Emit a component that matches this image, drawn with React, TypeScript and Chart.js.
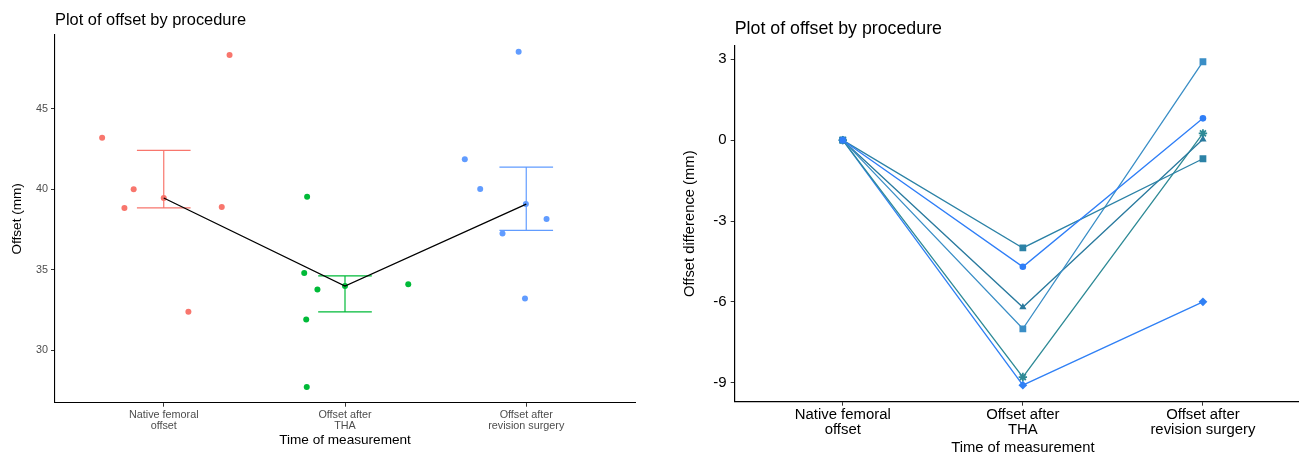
import React, { useEffect, useRef } from "react";
import { Chart, registerables } from "chart.js";
Chart.register(...registerables);

const FONT = "'Liberation Sans', Arial, Helvetica, sans-serif";

// ---------- Data ----------
const categories: string[][] = [
  ["Native femoral", "offset"],
  ["Offset after", "THA"],
  ["Offset after", "revision surgery"],
];

// Left panel: jittered raw points (x = jittered category position)
const nativeX = [0.66, 1.363, 0.834, 0.783, 1.0, 1.32, 1.136];
const nativeY = [43.2, 48.34, 40.0, 38.84, 39.46, 38.9, 32.39];
const thaX = [1.791, 1.775, 1.848, 1.786, 1.789, 2.349, 2.0];
const thaY = [39.53, 34.81, 33.78, 31.92, 27.73, 34.11, 33.99];
const revX = [2.958, 2.661, 2.746, 2.998, 3.112, 2.869, 2.993];
const revY = [48.54, 41.86, 40.02, 39.08, 38.15, 37.26, 33.22];

const centerValues = [39.46, 33.99, 39.08];
const upperValues = [42.42, 34.63, 41.38];
const lowerValues = [38.85, 32.39, 37.45];
const groupColors = ["#F8766D", "#00BA38", "#619CFF"];

const leftYTicks = [30, 35, 40, 45];

// Right panel: offset difference per patient
const diffPatient1 = [0, -4.7, 0.81];
const diffPatient2 = [0, -4.0, -0.69];
const diffPatient3 = [0, -7.0, 2.91];
const diffPatient4 = [0, -6.2, 0.03];
const diffPatient5 = [0, -8.79, 0.25];
const diffPatient6 = [0, -9.09, -6.0];
const rightYTicks = [-9, -6, -3, 0, 3];

const rightSeries = [
  { values: diffPatient1, color: "#2F7EF7", style: "circle" },
  { values: diffPatient2, color: "#2C82A6", style: "rect" },
  { values: diffPatient3, color: "#3A8EC6", style: "rect" },
  { values: diffPatient4, color: "#2A7A9E", style: "triangle" },
  { values: diffPatient5, color: "#2E8A96", style: "star" },
  { values: diffPatient6, color: "#3080F5", style: "rectRot" },
];

const markerRadius: Record<string, number> = {
  circle: 3.3,
  rect: 4.8,
  triangle: 4.2,
  star: 4.2,
  rectRot: 4.4,
};

// ---------- Helpers ----------
const titlePlugin = {
  id: "panelTitle",
  afterDraw(chart: any, _args: any, opts: any) {
    const { ctx, chartArea } = chart;
    ctx.save();
    ctx.font = `${opts.size}px ${FONT}`;
    ctx.fillStyle = "#000";
    ctx.textBaseline = "middle";
    ctx.textAlign = "left";
    ctx.fillText(opts.text, chartArea.left, opts.y);
    ctx.restore();
  },
};

const zip = (xs: number[], ys: number[]) => xs.map((x, i) => ({ x, y: ys[i] }));

function errorBarData(i: number) {
  const c = i + 1;
  const h = 0.148;
  return [
    { x: c - h, y: upperValues[i] },
    { x: c + h, y: upperValues[i] },
    { x: c, y: null },
    { x: c, y: upperValues[i] },
    { x: c, y: lowerValues[i] },
    { x: c + h, y: null },
    { x: c - h, y: lowerValues[i] },
    { x: c + h, y: lowerValues[i] },
  ];
}

export default function App() {
  const leftRef = useRef<HTMLCanvasElement>(null);
  const rightRef = useRef<HTMLCanvasElement>(null);

  useEffect(() => {
    const catCallback = (v: any) => categories[Math.round(Number(v)) - 1] ?? "";

    const leftDatasets: any[] = [
      {
        type: "line",
        data: centerValues.map((y, i) => ({ x: i + 1, y })),
        borderColor: "#000",
        borderWidth: 1.3,
        pointRadius: 0,
        fill: false,
        order: 0,
      },
    ];
    groupColors.forEach((col, i) => {
      leftDatasets.push({
        type: "line",
        data: errorBarData(i),
        borderColor: col,
        borderWidth: 1.2,
        pointRadius: 0,
        spanGaps: false,
        fill: false,
        order: 1,
      });
    });
    const pts = [zip(nativeX, nativeY), zip(thaX, thaY), zip(revX, revY)];
    pts.forEach((d, i) => {
      leftDatasets.push({
        type: "scatter",
        data: d,
        backgroundColor: groupColors[i],
        borderWidth: 0,
        pointRadius: 3,
        order: 2,
      });
    });

    const left = new Chart(leftRef.current!, {
      type: "scatter",
      data: { datasets: leftDatasets },
      plugins: [titlePlugin as any],
      options: {
        responsive: false,
        animation: false,
        events: [],
        layout: { padding: { left: 0, right: 15, top: 35, bottom: 0 } },
        plugins: {
          legend: { display: false },
          tooltip: { enabled: false },
          panelTitle: { text: "Plot of offset by procedure", size: 16.4, y: 20 },
        } as any,
        scales: {
          x: {
            type: "linear",
            min: 0.4,
            max: 3.6,
            afterBuildTicks: (s: any) => {
              s.ticks = [1, 2, 3].map((v) => ({ value: v }));
            },
            afterFit: (s: any) => {
              s.height = 52.3;
            },
            ticks: {
              callback: catCallback,
              font: { family: FONT, size: 10.8, lineHeight: 1.08 },
              color: "#4D4D4D",
              padding: 2,
              autoSkip: false,
              maxRotation: 0,
              minRotation: 0,
            },
            grid: { drawOnChartArea: false, drawTicks: true, tickLength: 4, color: "#333" },
            border: { display: true, color: "#000", width: 1.1 },
            title: {
              display: true,
              text: "Time of measurement",
              color: "#000",
              font: { family: FONT, size: 13.6, lineHeight: 1.2 },
              padding: { top: 0, bottom: 6.1 },
            },
          },
          y: {
            type: "linear",
            min: 26.75,
            max: 49.58,
            afterBuildTicks: (s: any) => {
              s.ticks = leftYTicks.map((v) => ({ value: v }));
            },
            afterFit: (s: any) => {
              s.width = 55;
            },
            ticks: {
              callback: (v: any) => String(v),
              font: { family: FONT, size: 10.8 },
              color: "#4D4D4D",
              padding: 3,
            },
            grid: { drawOnChartArea: false, drawTicks: true, tickLength: 4, color: "#333" },
            border: { display: true, color: "#000", width: 1.1 },
            title: {
              display: true,
              text: "Offset (mm)",
              color: "#000",
              font: { family: FONT, size: 13.6, lineHeight: 1.2 },
              padding: { top: 8.8, bottom: 0 },
            },
          },
        },
      } as any,
    });

    const rightDatasets = rightSeries.map((s) => ({
      type: "line",
      data: s.values.map((y, i) => ({ x: i + 1, y })),
      borderColor: s.color,
      backgroundColor: s.color,
      borderWidth: 1.3,
      pointStyle: s.style,
      pointRadius: markerRadius[s.style],
      pointBorderWidth: s.style === "star" ? 1.8 : 0,
      pointBorderColor: s.color,
      pointBackgroundColor: s.color,
      fill: false,
    }));

    const right = new Chart(rightRef.current!, {
      type: "line",
      data: { datasets: rightDatasets as any },
      plugins: [titlePlugin as any],
      options: {
        responsive: false,
        animation: false,
        events: [],
        layout: { padding: { left: 0, right: 19, top: 45.7, bottom: 0 } },
        plugins: {
          legend: { display: false },
          tooltip: { enabled: false },
          panelTitle: { text: "Plot of offset by procedure", size: 17.8, y: 29 },
        } as any,
        scales: {
          x: {
            type: "linear",
            min: 0.4,
            max: 3.6,
            afterBuildTicks: (s: any) => {
              s.ticks = [1, 2, 3].map((v) => ({ value: v }));
            },
            afterFit: (s: any) => {
              s.height = 53.3;
            },
            ticks: {
              callback: catCallback,
              font: { family: FONT, size: 14.9, lineHeight: 1.05 },
              color: "#000",
              padding: 1,
              autoSkip: false,
              maxRotation: 0,
              minRotation: 0,
            },
            grid: { drawOnChartArea: false, drawTicks: true, tickLength: 4, color: "#333" },
            border: { display: true, color: "#000", width: 1.2 },
            title: {
              display: true,
              text: "Time of measurement",
              color: "#000",
              font: { family: FONT, size: 14.8, lineHeight: 0.9 },
              padding: { top: 0, bottom: 0 },
            },
          },
          y: {
            type: "linear",
            min: -9.705,
            max: 3.505,
            afterBuildTicks: (s: any) => {
              s.ticks = rightYTicks.map((v) => ({ value: v }));
            },
            afterFit: (s: any) => {
              s.width = 84.7;
            },
            ticks: {
              callback: (v: any) => String(v),
              font: { family: FONT, size: 15 },
              color: "#000",
              padding: 4,
            },
            grid: { drawOnChartArea: false, drawTicks: true, tickLength: 4, color: "#333" },
            border: { display: true, color: "#000", width: 1.2 },
            title: {
              display: true,
              text: "Offset difference (mm)",
              color: "#000",
              font: { family: FONT, size: 14.8, lineHeight: 1.2 },
              padding: { top: 31.1, bottom: 0 },
            },
          },
        },
      } as any,
    });

    return () => {
      left.destroy();
      right.destroy();
    };
  }, []);

  return (
    <div
      style={{
        position: "absolute",
        left: 0,
        top: 0,
        width: 1299,
        height: 455,
        overflow: "hidden",
        background: "#fff",
      }}
    >
      <canvas
        ref={leftRef}
        width={650}
        height={455}
        style={{ position: "absolute", left: 0, top: 0, display: "block" }}
      />
      <canvas
        ref={rightRef}
        width={680}
        height={455}
        style={{ position: "absolute", left: 650, top: 0, display: "block" }}
      />
    </div>
  );
}
